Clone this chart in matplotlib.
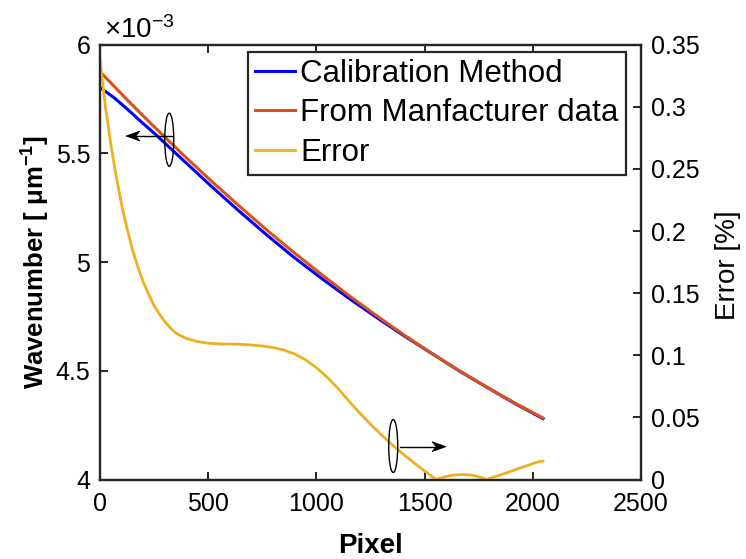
import numpy as np
import matplotlib
matplotlib.use("Agg")
import matplotlib.pyplot as plt
from matplotlib.patches import Ellipse, Polygon
from matplotlib.lines import Line2D
from matplotlib.ticker import FuncFormatter
from matplotlib.transforms import IdentityTransform

plt.rcParams['font.family'] = ['Liberation Sans', 'DejaVu Sans']
plt.rcParams['mathtext.fontset'] = 'custom'
plt.rcParams['mathtext.rm'] = 'Liberation Sans'
plt.rcParams['mathtext.it'] = 'Liberation Sans:italic'
plt.rcParams['mathtext.bf'] = 'Liberation Sans:bold'

# Wavenumber per detector pixel [um^-1]
pixel = [0, 64, 128, 192, 256, 384, 512, 640, 768, 896, 1024, 1152, 1280,
         1408, 1536, 1664, 1792, 1920, 2047]
wn_calibration = [5.803e-3, 5.757e-3, 5.702e-3, 5.644e-3, 5.588e-3, 5.469e-3,
                  5.351e-3, 5.237e-3, 5.127e-3, 5.022e-3, 4.925e-3, 4.832e-3,
                  4.744e-3, 4.659e-3, 4.578e-3, 4.497e-3, 4.422e-3, 4.348e-3,
                  4.280e-3]
wn_manufacturer = [5.876e-3, 5.810e-3, 5.744e-3, 5.680e-3, 5.617e-3, 5.494e-3,
                   5.375e-3, 5.261e-3, 5.150e-3, 5.044e-3, 4.943e-3, 4.845e-3,
                   4.752e-3, 4.663e-3, 4.578e-3, 4.498e-3, 4.422e-3, 4.350e-3,
                   4.283e-3]

# Relative error between the two calibrations [%]
err_pixel = [0, 25, 50, 75, 100, 125, 150, 175, 200, 225, 250, 275, 300, 325,
             350, 375, 400, 450, 500, 550, 600, 650, 700, 750, 800, 850, 900,
             950, 1000, 1050, 1100, 1150, 1200, 1250, 1300, 1350, 1400, 1450,
             1500, 1553, 1575, 1600, 1625, 1650, 1675, 1700, 1725, 1750, 1770,
             1784, 1800, 1825, 1850, 1875, 1900, 1925, 1950, 1975, 2000, 2025,
             2047]
err_percent = [0.338, 0.300, 0.270, 0.244, 0.221, 0.202, 0.185, 0.171, 0.159,
               0.149, 0.140, 0.133, 0.127, 0.122, 0.118, 0.1155, 0.1135,
               0.111, 0.1097, 0.1092, 0.109, 0.1088, 0.1083, 0.1075, 0.1062,
               0.1042, 0.1010, 0.0963, 0.0900, 0.0823, 0.0733, 0.0632, 0.0535,
               0.0445, 0.0360, 0.0280, 0.0205, 0.0135, 0.0068, 0.0, 0.0013,
               0.0024, 0.0033, 0.0038, 0.0040, 0.0038, 0.0032, 0.0022, 0.0011,
               0.0, 0.0009, 0.0022, 0.0037, 0.0052, 0.0067, 0.0082, 0.0098,
               0.0112, 0.0128, 0.0142, 0.0149]

x_ticks = [0, 500, 1000, 1500, 2000, 2500]
left_ticks = [4e-3, 4.5e-3, 5e-3, 5.5e-3, 6e-3]
right_ticks = [0, 0.05, 0.1, 0.15, 0.2, 0.25, 0.3, 0.35]
labels = ['Calibration Method', 'From Manfacturer data', 'Error']

W, H = 746, 559
fig = plt.figure(figsize=(W / 100, H / 100), dpi=100)
L, R, T, B = 100, 641, 44.7, 479.5
ax = fig.add_axes([L / W, 1 - B / H, (R - L) / W, (B - T) / H])
ax2 = ax.twinx()

edge = '#262626'
l1, = ax.plot(pixel, wn_calibration, color='#0000FF', lw=2.2, zorder=3)
l2, = ax.plot(pixel, wn_manufacturer, color='#D95319', lw=2.2, zorder=4)
l3, = ax2.plot(err_pixel, err_percent, color='#EDB120', lw=2.0)

ax.set_xlim(0, 2500)
ax.set_ylim(4e-3, 6e-3)
ax2.set_ylim(0, 0.35)
ax.set_xticks(x_ticks)
ax.set_yticks(left_ticks)
ax2.set_yticks(right_ticks)
ax.yaxis.set_major_formatter(FuncFormatter(lambda v, _: f'{v * 1e3:g}'))
ax2.yaxis.set_major_formatter(FuncFormatter(lambda v, _: f'{round(v, 2):g}'))

tick_kw = dict(direction='in', length=6, width=1.4, labelsize=18,
               color=edge, labelcolor='black')
ax.tick_params(axis='x', top=True, bottom=True, pad=9, **tick_kw)
ax.tick_params(axis='y', left=True, right=False, pad=7, **tick_kw)
ax2.tick_params(axis='y', right=True, left=False, pad=7, **tick_kw)
for a in (ax, ax2):
    for s in a.spines.values():
        s.set_color(edge)
        s.set_linewidth(1.6)

fig.text(104 / W, 1 - 38 / H, r'$\times10^{-3}$', fontsize=20,
         ha='left', va='baseline')
fig.text((L + R) / 2 / W, 1 - 553 / H, 'Pixel', fontsize=20,
         fontweight='bold', ha='center', va='baseline')
fig.text(36 / W, 1 - 262 / H, 'Wavenumber [ μm$^{\\mathbf{-1}}$]',
         rotation=90, fontsize=18.5, fontweight='bold', ha='center',
         va='center')
fig.text(728 / W, 1 - 265 / H, 'Error [%]', rotation=90, fontsize=20,
         ha='center', va='center')

leg = ax2.legend([l1, l2, l3], labels, loc='upper right',
                 bbox_to_anchor=(626 / W, 1 - 51.7 / H),
                 bbox_transform=fig.transFigure, fontsize=22.5, fancybox=False,
                 framealpha=1, edgecolor=edge, borderaxespad=0,
                 handlelength=1.27, handletextpad=0.18, labelspacing=0.30,
                 borderpad=0.23)
leg.get_frame().set_linewidth(1.6)


def axis_marker(axes, center, arrow_from, arrow_to):
    """Ellipse around a curve plus an arrow pointing at its y-axis."""
    cx, cy = axes.transData.transform(center)
    fig.add_artist(Ellipse((cx, cy), 9, 53, fill=False, ec='black', lw=1.0,
                           transform=IdentityTransform(), zorder=10))
    p0 = np.array(axes.transData.transform(arrow_from))
    p1 = np.array(axes.transData.transform(arrow_to))
    d = (p1 - p0) / np.linalg.norm(p1 - p0)
    n = np.array([-d[1], d[0]])
    hl, hw, notch = 14, 5, 4
    base = p1 - (hl - notch) * d
    fig.add_artist(Line2D([p0[0], base[0]], [p0[1], base[1]], color='black',
                          lw=1.0, transform=IdentityTransform(), zorder=10))
    head = [p1, p1 - hl * d + hw * n, base, p1 - hl * d - hw * n]
    fig.add_artist(Polygon(head, closed=True, fc='black', ec='black', lw=0.5,
                           transform=IdentityTransform(), zorder=10))


axis_marker(ax, (320, 5.563e-3), (333, 5.580e-3), (120, 5.580e-3))
axis_marker(ax, (1355, 4.154e-3), (1386, 4.151e-3), (1599, 4.151e-3))

fig.savefig('out.png', dpi=100)
